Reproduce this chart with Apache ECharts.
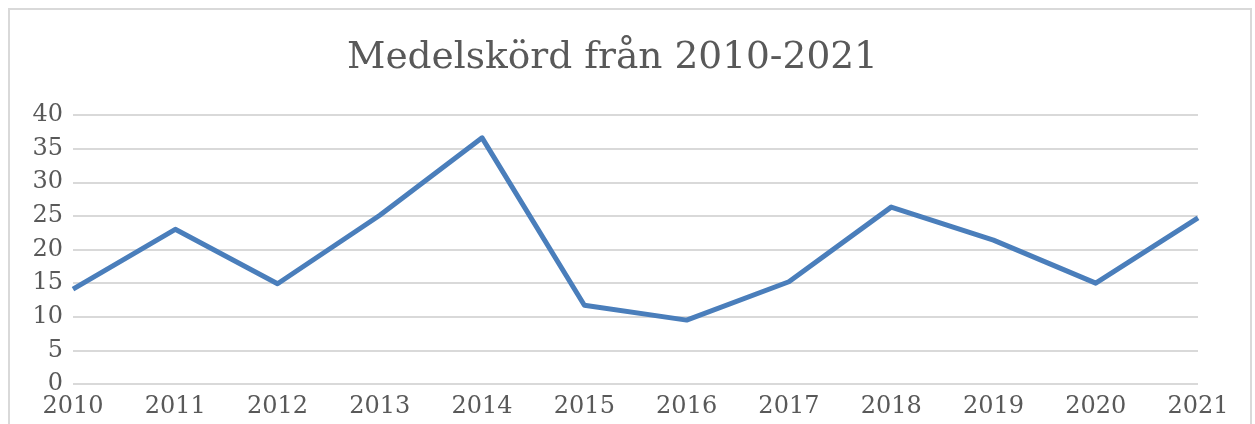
<!DOCTYPE html>
<html>
<head>
<meta charset="utf-8">
<script src="https://cdn.jsdelivr.net/npm/echarts@6/dist/echarts.min.js"></script>
<style>
  html, body { margin: 0; padding: 0; background: #fff; }
  #frame { position: absolute; left: 8px; top: 8px; width: 1244px; height: 430px; border: 2px solid #d9d9d9; box-sizing: border-box; }
  #main { position: absolute; left: 0; top: 0; width: 1255px; height: 424px; }
</style>
</head>
<body>
<div id="frame"></div>
<div id="main"></div>
<script>
  // år och medelskörd
  var years = ['2010', '2011', '2012', '2013', '2014', '2015', '2016', '2017', '2018', '2019', '2020', '2021'];
  var harvest = [14.1, 23.0, 14.9, 25.1, 36.6, 11.7, 9.5, 15.2, 26.3, 21.4, 15.0, 24.7];

  var font = 'DejaVu Serif';
  var chart = echarts.init(document.getElementById('main'));

  chart.setOption({
    animation: false,
    title: {
      text: 'Medelskörd från 2010-2021',
      left: 342,
      top: 34,
      textStyle: {
        fontFamily: font,
        fontSize: 37.5,
        fontWeight: 'normal',
        color: '#595959'
      }
    },
    grid: {
      left: 73,
      right: 57,
      top: 115,
      bottom: 40
    },
    xAxis: {
      type: 'category',
      data: years,
      boundaryGap: false,
      axisLine: { show: false },
      axisTick: { show: false },
      axisLabel: {
        fontFamily: font,
        fontSize: 24,
        color: '#595959',
        margin: 11
      }
    },
    yAxis: {
      type: 'value',
      min: 0,
      max: 40,
      interval: 5,
      axisLine: { show: false },
      axisTick: { show: false },
      axisLabel: {
        fontFamily: font,
        fontSize: 24,
        color: '#595959',
        margin: 10
      },
      splitLine: {
        lineStyle: { color: '#d9d9d9', width: 2 }
      }
    },
    series: [
      {
        name: 'Medelskörd',
        type: 'line',
        data: harvest,
        symbol: 'none',
        lineStyle: {
          color: '#4a7ebb',
          width: 5,
          join: 'round'
        }
      }
    ]
  });
</script>
</body>
</html>
